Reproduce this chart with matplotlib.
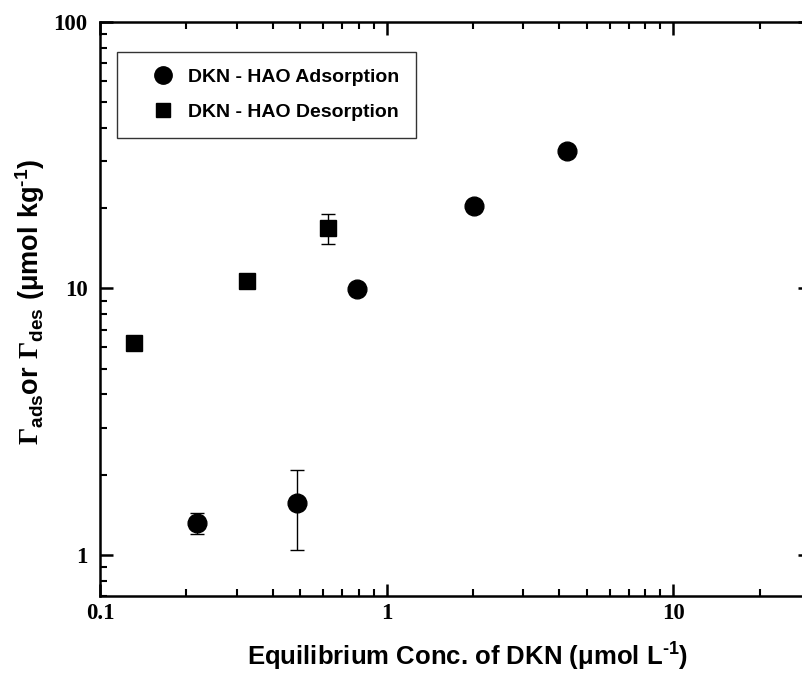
import matplotlib
matplotlib.use("Agg")
import matplotlib.pyplot as plt
from matplotlib.lines import Line2D
from matplotlib.ticker import LogLocator, FixedLocator, NullFormatter

# Data
ads_x = [0.218, 0.486, 0.79, 2.02, 4.26]
ads_y = [1.32, 1.56, 9.97, 20.3, 32.7]
ads_err = [0.12, 0.52, 0.0, 0.0, 0.0]

des_x = [0.131, 0.326, 0.622]
des_y = [6.25, 10.65, 16.9]
des_err = [0.0, 0.0, 2.2]

x_ticks = [0.1, 1, 10]
x_tick_labels = ["0.1", "1", "10"]
y_ticks = [1, 10, 100]
y_tick_labels = ["1", "10", "100"]

ads_label = "DKN - HAO Adsorption"
des_label = "DKN - HAO Desorption"

plt.rcParams['mathtext.fontset'] = 'custom'
plt.rcParams['mathtext.rm'] = 'Liberation Sans:bold'
plt.rcParams['mathtext.bf'] = 'Liberation Sans:bold'
plt.rcParams['mathtext.it'] = 'Liberation Sans:bold'
plt.rcParams['mathtext.tt'] = 'Liberation Serif:bold'

fig = plt.figure(figsize=(8.03, 6.90), dpi=100)
ax = fig.add_axes([100/803, 1 - 596/690, 710/803, (596 - 22)/690])

ax.set_xscale('log')
ax.set_yscale('log')
ax.set_xlim(0.1, 30)
ax.set_ylim(0.7, 100)

ax.errorbar(ads_x, ads_y, yerr=ads_err, fmt='o', color='black', ms=13.5,
            ecolor='black', elinewidth=1, capsize=4.7, capthick=1)
ax.errorbar(des_x, des_y, yerr=des_err, fmt='s', color='black', ms=11,
            ecolor='black', elinewidth=1, capsize=4.7, capthick=1)

for s in ax.spines.values():
    s.set_linewidth(1.8)

ax.xaxis.set_major_locator(FixedLocator(x_ticks))
ax.yaxis.set_major_locator(FixedLocator(y_ticks))
ax.set_xticklabels(x_tick_labels)
ax.set_yticklabels(y_tick_labels)
ax.xaxis.set_minor_locator(LogLocator(base=10, subs=range(2, 10)))
ax.yaxis.set_minor_locator(LogLocator(base=10, subs=range(2, 10)))
ax.xaxis.set_minor_formatter(NullFormatter())
ax.yaxis.set_minor_formatter(NullFormatter())

ax.tick_params(which='both', direction='in', top=True, right=True)
ax.tick_params(which='major', length=9, width=1.8)
ax.tick_params(which='minor', length=5, width=1.5)
ax.tick_params(axis='x', which='major', pad=5)
ax.tick_params(axis='y', which='major', pad=9)
for lab in ax.get_xticklabels() + ax.get_yticklabels():
    lab.set_fontfamily('Liberation Serif')
    lab.set_fontweight('bold')
    lab.set_fontsize(16.5)

ax.set_xlabel(r'Equilibrium Conc. of DKN ($\mathrm{\mu}$mol L$^{\text{-1}}$)',
              fontfamily='Liberation Sans', fontweight='bold', fontsize=18.5)
ax.xaxis.label.set_verticalalignment('center')
ax.xaxis.set_label_coords(0.517, -0.106)

ax.set_ylabel(r'$\mathtt{\Gamma}_{\mathrm{ads}}\mathrm{or}\ \mathtt{\Gamma}_{\mathrm{des}}\ \mathrm{(\mu mol\ kg^{\text{-1}})}$',
              fontsize=19.5)
ax.yaxis.label.set_verticalalignment('center')
ax.yaxis.set_label_coords(-0.0986, 0.512)

handles = [
    Line2D([], [], linestyle='none', marker='o', color='black', ms=12.5),
    Line2D([], [], linestyle='none', marker='s', color='black', ms=10),
]
leg = ax.legend(handles, [ads_label, des_label],
                loc='upper left', bbox_to_anchor=(0.024, 0.948),
                borderaxespad=0, frameon=True, fancybox=False,
                prop={'family': 'Liberation Sans', 'weight': 'bold', 'size': 14},
                handlelength=3.0, handletextpad=-0.2, borderpad=0.85,
                labelspacing=0.9, numpoints=1)
leg.get_frame().set_edgecolor('black')
leg.get_frame().set_linewidth(1.0)

fig.savefig('out.png', dpi=100)
